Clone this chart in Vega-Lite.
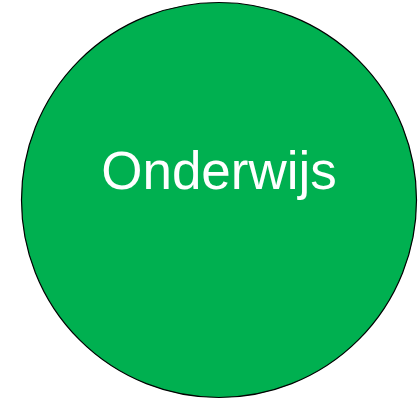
{
  "$schema": "https://vega.github.io/schema/vega-lite/v6.json",
  "autosize": {"type": "fit", "contains": "padding"},
  "width": 419,
  "height": 400,
  "padding": 0,
  "background": "white",
  "config": {"view": {"stroke": null}},
  "data": {"values": [{"x": 219, "y": 200.5, "label": "Onderwijs", "ty": 189}]},
  "encoding": {
    "x": {"field": "x", "type": "quantitative", "scale": {"domain": [0, 419], "nice": false, "zero": false}, "axis": null}
  },
  "layer": [
    {
      "mark": {"type": "point", "shape": "circle", "filled": true, "fill": "#00B050", "stroke": "#000000", "strokeWidth": 1.2, "opacity": 1, "size": 156025},
      "encoding": {
        "y": {"field": "y", "type": "quantitative", "scale": {"domain": [0, 400], "reverse": true, "nice": false, "zero": false}, "axis": null}
      }
    },
    {
      "mark": {"type": "text", "font": "Liberation Sans", "fontSize": 53, "color": "#FFFFFF", "baseline": "alphabetic", "align": "center"},
      "encoding": {
        "y": {"field": "ty", "type": "quantitative", "scale": {"domain": [0, 400], "reverse": true, "nice": false, "zero": false}, "axis": null},
        "text": {"field": "label"}
      }
    }
  ]
}
